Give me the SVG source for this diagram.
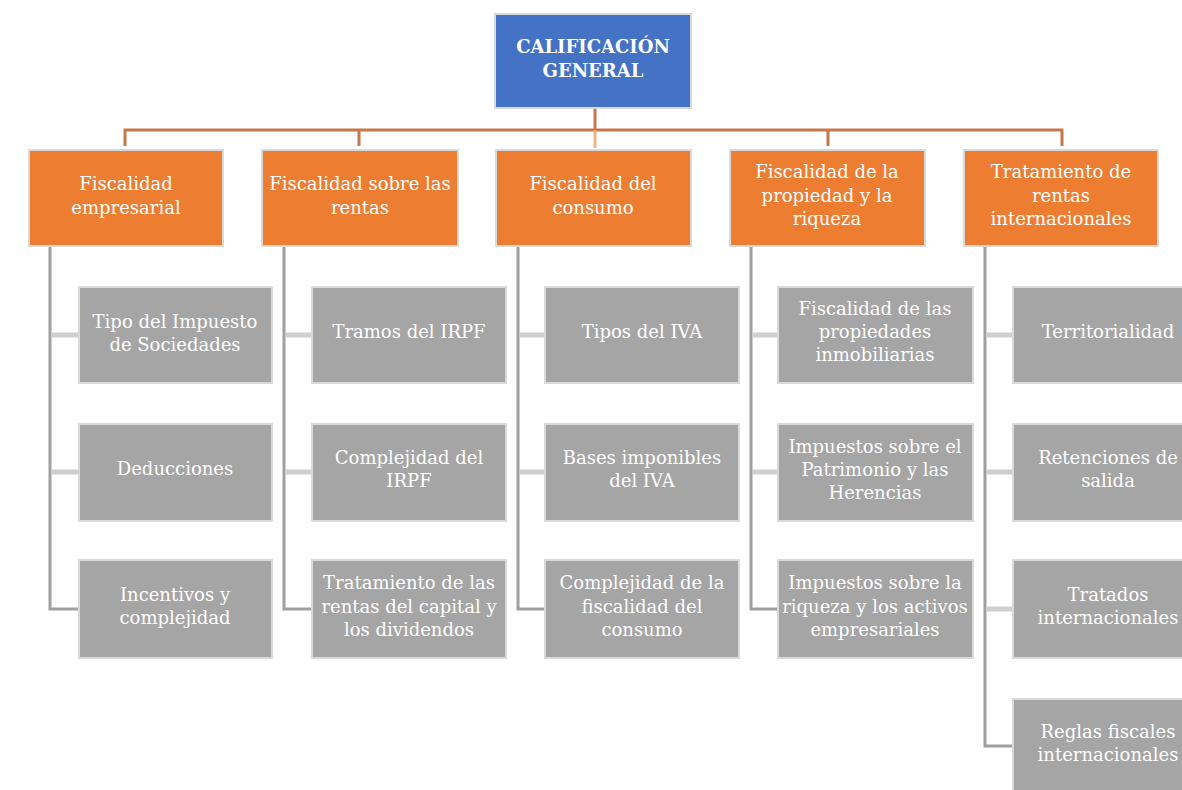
<svg xmlns="http://www.w3.org/2000/svg" width="1182" height="790" viewBox="0 0 1182 790">
<defs>
<style>
.box{stroke:#D9D9D9;stroke-width:2}
.top{fill:#4472C4}
.cat{fill:#ED7D31}
.leaf{fill:#A5A5A5}
text{font-family:"DejaVu Serif","Liberation Serif",serif;font-size:18px;fill:#FFFFFF;text-anchor:middle}
.main{stroke:#C8764A;stroke-width:3;fill:none}
.main2{stroke:#F4B183;stroke-width:3;fill:none}
.vline{stroke:#A0A0A0;stroke-width:3;fill:none}
.hstub{stroke:#CFCFCF;stroke-width:5;fill:none}
</style>
</defs>
<rect width="1182" height="790" fill="#FFFFFF"/>
<g id="connectors">
<path class="main" d="M595,108 V130 M125,146 V130 H1062 V146"/>
<path class="main" d="M359,130 V146 M828,130 V146"/>
<path class="main2" d="M595,130 V148"/>
<path class="vline" d="M50,246 V609 H79 M284,246 V609 H312 M518,246 V609 H545 M751,246 V609 H778 M985,246 V746 H1013"/>
<path class="hstub" d="M52,335 H79 M52,472 H79 M286,335 H312 M286,472 H312 M520,335 H545 M520,472 H545 M753,335 H778 M753,472 H778 M987,335 H1013 M987,472 H1013 M987,609 H1013"/>
</g>
<g id="n-root"><rect class="box top" x="495" y="14" width="196" height="94"/><text x="593" y="53" font-weight="bold">CALIFICACIÓN</text><text x="593" y="77" font-weight="bold">GENERAL</text></g>
<g id="n-c1"><rect class="box cat" x="29" y="150" width="194" height="96"/><text x="126" y="190">Fiscalidad</text><text x="126" y="214">empresarial</text></g>
<g id="n-c2"><rect class="box cat" x="262" y="150" width="196" height="96"/><text x="360" y="190">Fiscalidad sobre las</text><text x="360" y="214">rentas</text></g>
<g id="n-c3"><rect class="box cat" x="496" y="150" width="195" height="96"/><text x="593" y="190">Fiscalidad del</text><text x="593" y="214">consumo</text></g>
<g id="n-c4"><rect class="box cat" x="730" y="150" width="195" height="96"/><text x="827" y="178">Fiscalidad de la</text><text x="827" y="202">propiedad y la</text><text x="827" y="225">riqueza</text></g>
<g id="n-c5"><rect class="box cat" x="964" y="150" width="194" height="96"/><text x="1061" y="178">Tratamiento de</text><text x="1061" y="202">rentas</text><text x="1061" y="225">internacionales</text></g>
<g id="n-l11"><rect class="box leaf" x="79" y="287" width="193" height="96"/><text x="175" y="328">Tipo del Impuesto</text><text x="175" y="351">de Sociedades</text></g>
<g id="n-l12"><rect class="box leaf" x="79" y="424" width="193" height="97"/><text x="175" y="475">Deducciones</text></g>
<g id="n-l13"><rect class="box leaf" x="79" y="560" width="193" height="98"/><text x="175" y="601">Incentivos y</text><text x="175" y="624">complejidad</text></g>
<g id="n-l21"><rect class="box leaf" x="312" y="287" width="194" height="96"/><text x="409" y="338">Tramos del IRPF</text></g>
<g id="n-l22"><rect class="box leaf" x="312" y="424" width="194" height="97"/><text x="409" y="464">Complejidad del</text><text x="409" y="487">IRPF</text></g>
<g id="n-l23"><rect class="box leaf" x="312" y="560" width="194" height="98"/><text x="409" y="589">Tratamiento de las</text><text x="409" y="613">rentas del capital y</text><text x="409" y="636">los dividendos</text></g>
<g id="n-l31"><rect class="box leaf" x="545" y="287" width="194" height="96"/><text x="642" y="338">Tipos del IVA</text></g>
<g id="n-l32"><rect class="box leaf" x="545" y="424" width="194" height="97"/><text x="642" y="464">Bases imponibles</text><text x="642" y="487">del IVA</text></g>
<g id="n-l33"><rect class="box leaf" x="545" y="560" width="194" height="98"/><text x="642" y="589">Complejidad de la</text><text x="642" y="613">fiscalidad del</text><text x="642" y="636">consumo</text></g>
<g id="n-l41"><rect class="box leaf" x="778" y="287" width="195" height="96"/><text x="875" y="315">Fiscalidad de las</text><text x="875" y="338">propiedades</text><text x="875" y="361">inmobiliarias</text></g>
<g id="n-l42"><rect class="box leaf" x="778" y="424" width="195" height="97"/><text x="875" y="453">Impuestos sobre el</text><text x="875" y="476">Patrimonio y las</text><text x="875" y="499">Herencias</text></g>
<g id="n-l43"><rect class="box leaf" x="778" y="560" width="195" height="98"/><text x="875" y="589">Impuestos sobre la</text><text x="875" y="613">riqueza y los activos</text><text x="875" y="636">empresariales</text></g>
<g id="n-l51"><rect class="box leaf" x="1013" y="287" width="194" height="96"/><text x="1108" y="338">Territorialidad</text></g>
<g id="n-l52"><rect class="box leaf" x="1013" y="424" width="194" height="97"/><text x="1108" y="464">Retenciones de</text><text x="1108" y="487">salida</text></g>
<g id="n-l53"><rect class="box leaf" x="1013" y="560" width="194" height="98"/><text x="1108" y="601">Tratados</text><text x="1108" y="624">internacionales</text></g>
<g id="n-l54"><rect class="box leaf" x="1013" y="699" width="194" height="98"/><text x="1108" y="738">Reglas fiscales</text><text x="1108" y="761">internacionales</text></g>
</svg>
